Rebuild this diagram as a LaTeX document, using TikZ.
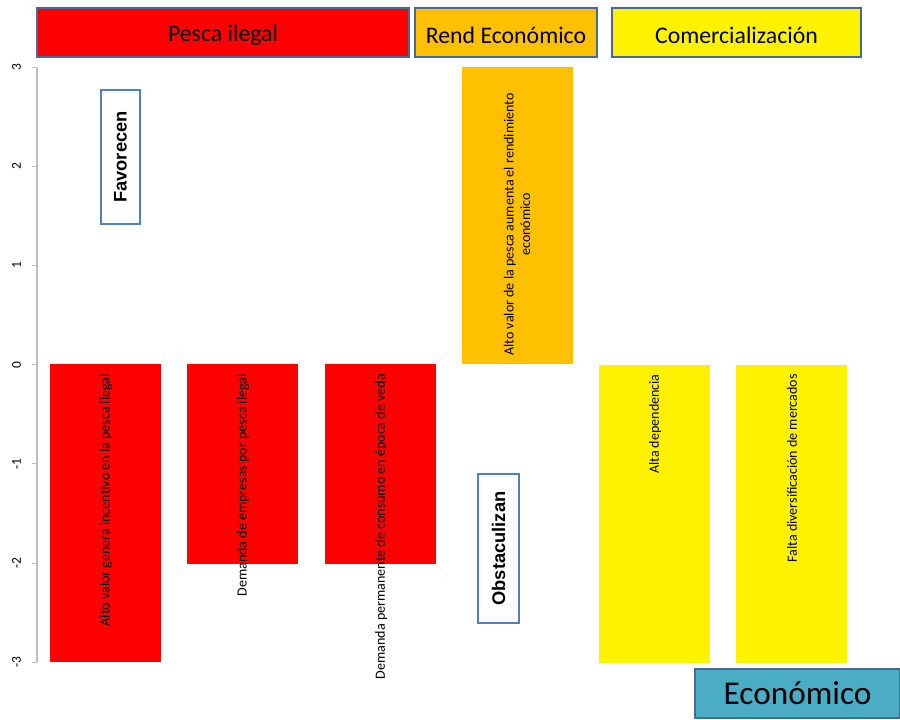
\documentclass[tikz,border=0pt]{standalone}
\usepackage{fontspec}
\setmainfont{Carlito}
\newfontfamily\arialfont{Liberation Sans}
\usepackage{tikz}
\definecolor{hdrline}{HTML}{4A6890}
\definecolor{tagline}{HTML}{4F81BD}
\definecolor{orangebar}{HTML}{FFC000}
\definecolor{econfill}{HTML}{4BACC6}
\definecolor{axisgray}{HTML}{BFBFBF}
\newcommand{\lowtext}[1]{\raisebox{-2pt}[\height][\depth]{#1}}
\tikzstyle{header}=[rectangle,draw=hdrline,line width=1.5pt,text=black,minimum height=1.47cm,font=\fontsize{20.3}{22}\selectfont]
\tikzstyle{bar}=[rectangle,inner sep=0pt,minimum width=3.33cm]
\tikzstyle{lbl}=[rotate=90,anchor=east,inner sep=0pt,font=\fontsize{12}{14}\selectfont]
\tikzstyle{tag}=[rectangle,draw=tagline,line width=1.5pt,fill=white,rotate=90,font=\arialfont\bfseries\fontsize{15.6}{17}\selectfont]
\tikzstyle{tick}=[rotate=90,font=\fontsize{11.5}{12}\selectfont]

\begin{document}
\begin{tikzpicture}[x=0.03cm,y=-0.03cm]
  \useasboundingbox (0,0) rectangle (900,719);

  % headers
  \node[header,fill=red,minimum width=11.16cm] (HP) at (223,32.5) {\lowtext{Pesca ilegal}};
  \node[header,fill=orangebar,minimum width=5.46cm] (HR) at (506,32.5) {\lowtext{Rend Económico}};
  \node[header,fill=yellow,minimum width=7.47cm] (HC) at (736.5,32.5) {\lowtext{Comercialización}};

  % axis
  \draw[axisgray,line width=1pt] (37,67) -- (37,662);
  \foreach \v [count=\i from 0] in {3,2,1,0,-1,-2,-3} {
    \draw[axisgray,line width=0.8pt] (32,67+99.2*\i) -- (37,67+99.2*\i);
    \node[tick] (tk\i) at (16.5,67+99.2*\i) {\v};
  }

  % bars
  \node[bar,fill=red,minimum height=8.94cm] (B1) at (105.5,513) {};
  \node[bar,fill=red,minimum height=6.0cm] (B2) at (242.5,464) {};
  \node[bar,fill=red,minimum height=6.0cm] (B3) at (380.5,464) {};
  \node[bar,fill=orangebar,minimum height=8.91cm] (O1) at (517.5,215.5) {};
  \node[bar,fill=yellow,minimum height=8.94cm] (Y1) at (654.5,513.5) {};
  \node[bar,fill=yellow,minimum height=8.94cm] (Y2) at (791.5,513.5) {};

  % bar texts
  \node[lbl] (T1) at (106,374) {Alto valor genera incentivo en la pesca ilegal};
  \node[lbl] (T2) at (243,374) {Demanda de empresas por pesca ilegal};
  \node[lbl] (T3) at (381,374) {Demanda permanente de consumo en época de veda};
  \node[lbl,align=center] (T4) at (517,93) {Alto valor de la pesca aumenta el rendimiento\\económico};
  \node[lbl] (T5) at (655,374) {Alta dependencia};
  \node[lbl] (T6) at (792,374) {Falta diversificación de mercados};

  % tags
  \node[tag,minimum width=4.02cm,minimum height=1.17cm] (FAV) at (120.5,157) {Favorecen};
  \node[tag,minimum width=4.47cm,minimum height=1.23cm] (OBS) at (498.5,548.5) {Obstaculizan};

  \node[rectangle,draw=hdrline,line width=1.2pt,fill=econfill,minimum width=6.15cm,minimum height=1.47cm,font=\fontsize{28.4}{30}\selectfont] (EC) at (797.5,693.5) {Económico};

\end{tikzpicture}
\end{document}
